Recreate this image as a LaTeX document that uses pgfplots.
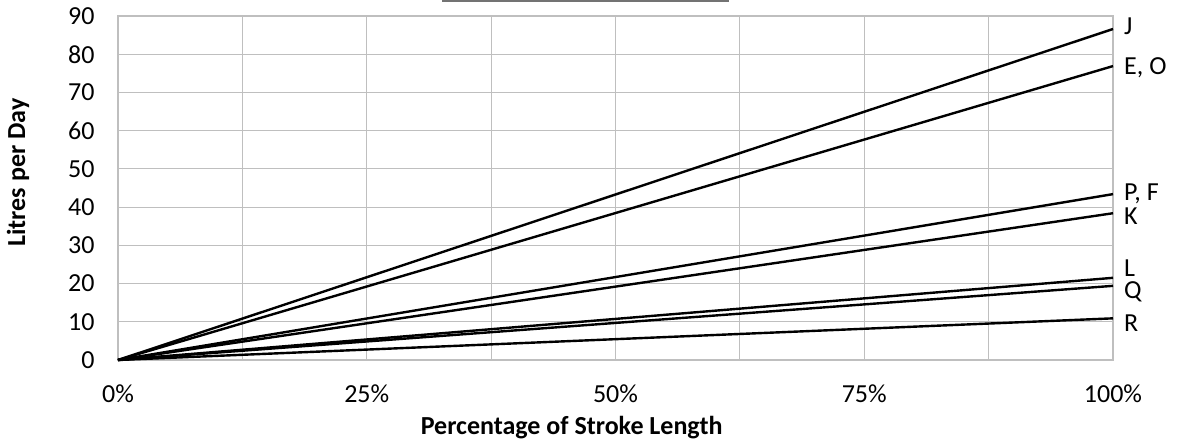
\documentclass[border=0pt]{standalone}
\usepackage{fontspec}
\setmainfont{Carlito}
\usepackage{pgfplots}
\pgfplotsset{compat=1.18}
\definecolor{gridgray}{RGB}{191,191,191}
\tikzset{lblnode/.style={anchor=base west, inner sep=0pt, xshift=5pt, text=black}}
\begin{document}
\fontsize{13pt}{15.6pt}\selectfont
\begin{tikzpicture}
\begin{axis}[
  scale only axis,
  width=497.5pt, height=172pt,
  xmin=0, xmax=100, ymin=0, ymax=90,
  xtick={0,25,50,75,100},
  xticklabels={0\%,25\%,50\%,75\%,100\%},
  minor xtick={12.5,37.5,62.5,87.5},
  ytick={0,10,...,90},
  grid=both,
  major grid style={gridgray, line width=0.6pt},
  minor grid style={gridgray, line width=0.6pt},
  axis line style={gridgray, line width=0.6pt},
  tick style={draw=none},
  minor tick style={draw=none},
  /pgf/number format/assume math mode=true,
  xticklabel style={anchor=base, yshift=-21pt, inner sep=0pt},
  yticklabel style={anchor=east, inner sep=0pt, xshift=-11.5pt},
  xlabel={\bfseries Percentage of Stroke Length},
  ylabel={\bfseries Litres per Day},
  xlabel style={at={(axis description cs:0.456,0)}, anchor=base, yshift=-37pt, inner sep=0pt},
  ylabel style={at={(axis description cs:0,0.545)}, anchor=center, yshift=50pt, inner sep=0pt},
  clip=false,
  every axis plot post/.append style={black, line width=1.2pt, mark=none, solid},
]
\addplot coordinates {(0,0) (100,86.6)} node[pos=1, lblnode, yshift=-2.7pt] {J};
\addplot coordinates {(0,0) (100,76.9)} node[pos=1, lblnode, yshift=-4.2pt] {E, O};
\addplot coordinates {(0,0) (100,43.4)} node[pos=1, lblnode, yshift=-3.2pt] {P, F};
\addplot coordinates {(0,0) (100,38.4)} node[pos=1, lblnode, yshift=-5.7pt] {K};
\addplot coordinates {(0,0) (100,21.5)} node[pos=1, lblnode, yshift=0.6pt] {L};
\addplot coordinates {(0,0) (100,19.4)} node[pos=1, lblnode, yshift=-6.2pt] {Q};
\addplot coordinates {(0,0) (100,10.9)} node[pos=1, lblnode, yshift=-6.7pt] {R};
\end{axis}
\draw[black!55, line width=0.9pt] (162pt,179.5pt) -- (305.5pt,179.5pt);
\pgfresetboundingbox
\useasboundingbox (-59pt,-42pt) rectangle (532pt,180pt);
\end{tikzpicture}
\end{document}
